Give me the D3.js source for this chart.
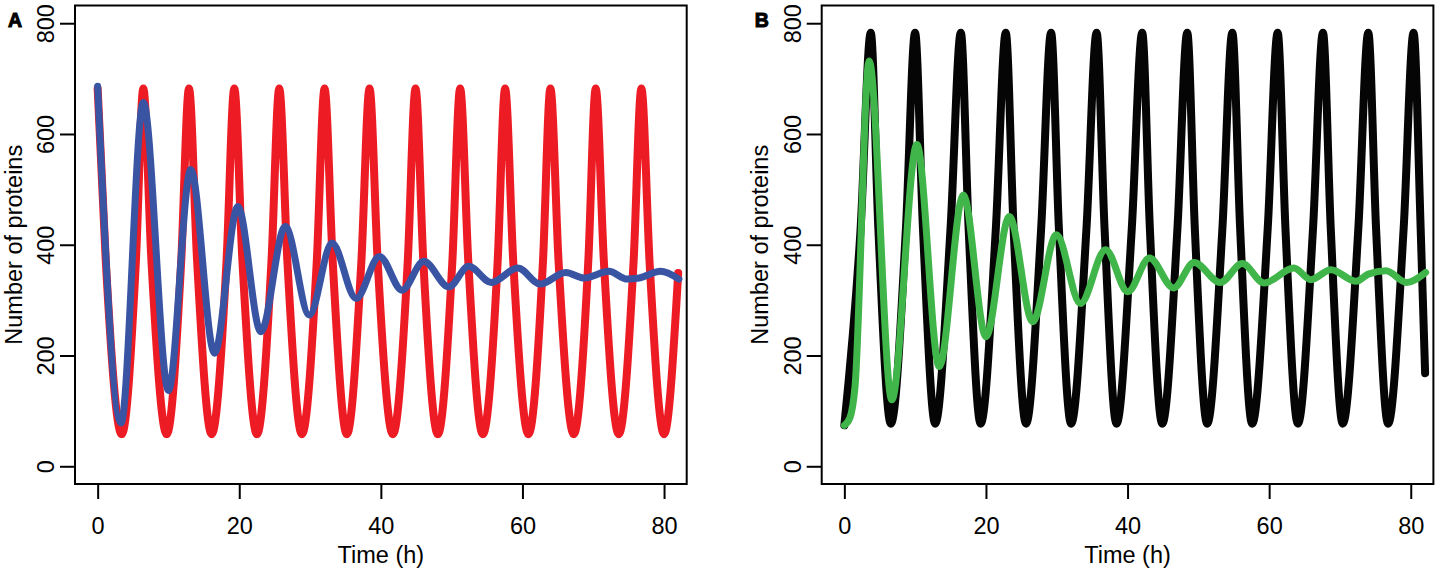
<!DOCTYPE html>
<html lang="en">
  <head>
    <meta charset="UTF-8" />
    <title>Number of proteins</title>
    <style>
      * {
        margin: 0;
        padding: 0;
      }
      body {
        background: #fff;
      }
      text {
        font-family: 'Liberation Sans', Arial, Helvetica, sans-serif;
      }
    </style>
  </head>
  <body>
    <script src="https://cdn.jsdelivr.net/npm/d3@7/dist/d3.min.js"></script>
    <script>
      // values: [time (h), number of proteins]
      const redA = [
        [0, 682], [1.15, 370], [3.4, 58], [5.4, 370], [6.45, 682], [7.6, 370],
        [9.75, 58], [11.8, 370], [12.9, 682], [14.05, 370], [16.1, 58], [18.2, 370],
        [19.3, 682], [20.45, 370], [22.5, 58], [24.55, 370], [25.65, 682], [26.8, 370],
        [28.85, 58], [30.95, 370], [32.05, 682], [33.2, 370], [35.2, 58], [37.25, 370],
        [38.4, 682], [39.55, 370], [41.7, 58], [43.8, 370], [44.9, 682], [46.0, 370],
        [48.05, 58], [50.1, 370], [51.2, 682], [52.35, 370], [54.4, 58], [56.5, 370],
        [57.55, 682], [58.7, 370], [60.85, 58], [62.9, 370], [63.95, 682], [65.1, 370],
        [67.25, 58], [69.3, 370], [70.35, 682], [71.5, 370], [73.6, 58], [75.7, 370],
        [76.8, 682], [77.95, 370], [80.0, 58], [82.0, 349]
      ]
      const blueA = [
        [0, 686], [3.3, 78], [6.45, 657], [10.0, 137], [13.15, 536], [16.5, 204],
        [19.8, 469], [23.05, 243], [26.5, 433], [29.9, 273], [33.1, 403], [36.5, 303],
        [39.8, 379], [43.0, 318], [46.05, 370], [49.6, 324], [52.4, 361], [55.6, 332],
        [59.35, 358], [62.5, 329], [66.1, 350], [68.7, 340], [72.2, 352], [74.8, 338],
        [76.5, 340], [79.5, 352], [82.1, 338]
      ]
      const blackB = [
        [0, 74], [2.3, 430], [3.73, 783], [4.8, 430], [6.57, 77], [8.7, 430],
        [9.99, 783], [11.1, 430], [12.83, 77], [15.0, 430], [16.45, 783], [17.55, 430],
        [19.25, 77], [21.4, 430], [22.8, 783], [23.9, 430], [25.66, 77], [27.8, 430],
        [29.2, 783], [30.3, 430], [32.03, 77], [34.2, 430], [35.63, 783], [36.75, 430],
        [38.44, 77], [40.6, 430], [42.07, 783], [43.15, 430], [44.9, 77], [47.05, 430],
        [48.43, 783], [49.5, 430], [51.25, 77], [53.4, 430], [54.8, 783], [55.9, 430],
        [57.6, 77], [59.8, 430], [61.2, 783], [62.3, 430], [64.06, 77], [66.2, 430],
        [67.6, 783], [68.7, 430], [70.4, 77], [72.6, 430], [74.0, 783], [75.1, 430],
        [76.8, 77], [79.0, 430], [80.4, 783], [81.4, 430], [82.03, 168]
      ]
      const greenB = [
        [0, 74], [0.8, 88], [1.5, 143], [3.5, 732], [6.7, 120], [10.24, 581],
        [13.4, 180], [16.8, 490], [20.0, 234], [23.3, 451], [26.6, 261], [29.95, 418],
        [33.34, 294], [36.9, 391], [40.03, 315], [43.1, 376], [46.5, 322], [49.4, 368],
        [53.1, 332], [56.2, 366], [59.3, 331], [63.5, 358], [65.9, 337], [68.7, 355],
        [72.3, 334], [74.0, 347], [76.5, 353], [79.4, 332], [82.1, 350]
      ]
      const timeTicks = [0, 20, 40, 60, 80]
      const countTicks = [0, 200, 400, 600, 800]

      const W = 1439
      const H = 574
      const boxW = 611.7
      const boxTop = 5.5
      const boxBottom = 484
      const fontSize = '23.5px'

      const svg = d3
        .select('body')
        .append('svg')
        .attr('width', W)
        .attr('height', H)

      // R-style axis range: data range plus 4% on each side
      const x = d3.scaleLinear().domain([-3.2, 83.2]).range([0, boxW])
      const y = d3.scaleLinear().domain([-32, 832]).range([boxBottom, boxTop])

      function panel(left, label, series) {
        const g = svg.append('g').attr('transform', `translate(${left},0)`)

        const line = d3
          .line()
          .x(d => x(d[0]))
          .y(d => y(d[1]))
          .curve(d3.curveMonotoneX)

        series.forEach(s => {
          g.append('path')
            .datum(s.data)
            .attr('d', line)
            .attr('fill', 'none')
            .attr('stroke', s.color)
            .attr('stroke-width', s.width)
            .attr('stroke-linecap', 'round')
            .attr('stroke-linejoin', 'round')
        })

        // box
        g.append('rect')
          .attr('x', 0)
          .attr('y', boxTop)
          .attr('width', boxW)
          .attr('height', boxBottom - boxTop)
          .attr('fill', 'none')
          .attr('stroke', '#000')
          .attr('stroke-width', 2)

        const xAxis = g
          .append('g')
          .attr('transform', `translate(0,${boxBottom})`)
          .call(d3.axisBottom(x).tickValues(timeTicks).tickSize(15).tickSizeOuter(0))
        xAxis.select('.domain').remove()
        xAxis.selectAll('line').attr('stroke', '#000').attr('stroke-width', 2)
        xAxis
          .selectAll('text')
          .attr('y', 49.5)
          .attr('dy', 0)
          .attr('fill', '#000')
          .style('font-size', fontSize)

        const yAxis = g
          .append('g')
          .call(d3.axisLeft(y).tickValues(countTicks).tickSize(15).tickSizeOuter(0))
        yAxis.select('.domain').remove()
        yAxis.selectAll('line').attr('stroke', '#000').attr('stroke-width', 2)
        yAxis
          .selectAll('text')
          .attr('transform', 'rotate(-90)')
          .attr('x', 0)
          .attr('y', -21)
          .attr('dy', 0)
          .attr('fill', '#000')
          .style('text-anchor', 'middle')
          .style('font-size', fontSize)

        g.append('text')
          .attr('x', boxW / 2)
          .attr('y', 563)
          .attr('text-anchor', 'middle')
          .style('font-size', fontSize)
          .text('Time (h)')

        g.append('text')
          .attr('transform', `translate(-53.5,${(boxTop + boxBottom) / 2}) rotate(-90)`)
          .attr('text-anchor', 'middle')
          .style('font-size', fontSize)
          .text('Number of proteins')

        g.append('text')
          .attr('x', 8 - 75)
          .attr('y', 27)
          .attr('stroke', '#000')
          .attr('stroke-width', 1)
          .style('font-size', '19.5px')
          .style('font-weight', 'bold')
          .text(label)
      }

      panel(75, 'A', [
        { data: redA, color: '#ed1c24', width: 8 },
        { data: blueA, color: '#3a54a4', width: 7 }
      ])
      panel(821.7, 'B', [
        { data: blackB, color: '#050505', width: 8 },
        { data: greenB, color: '#40b54a', width: 7 }
      ])
    </script>
  </body>
</html>
